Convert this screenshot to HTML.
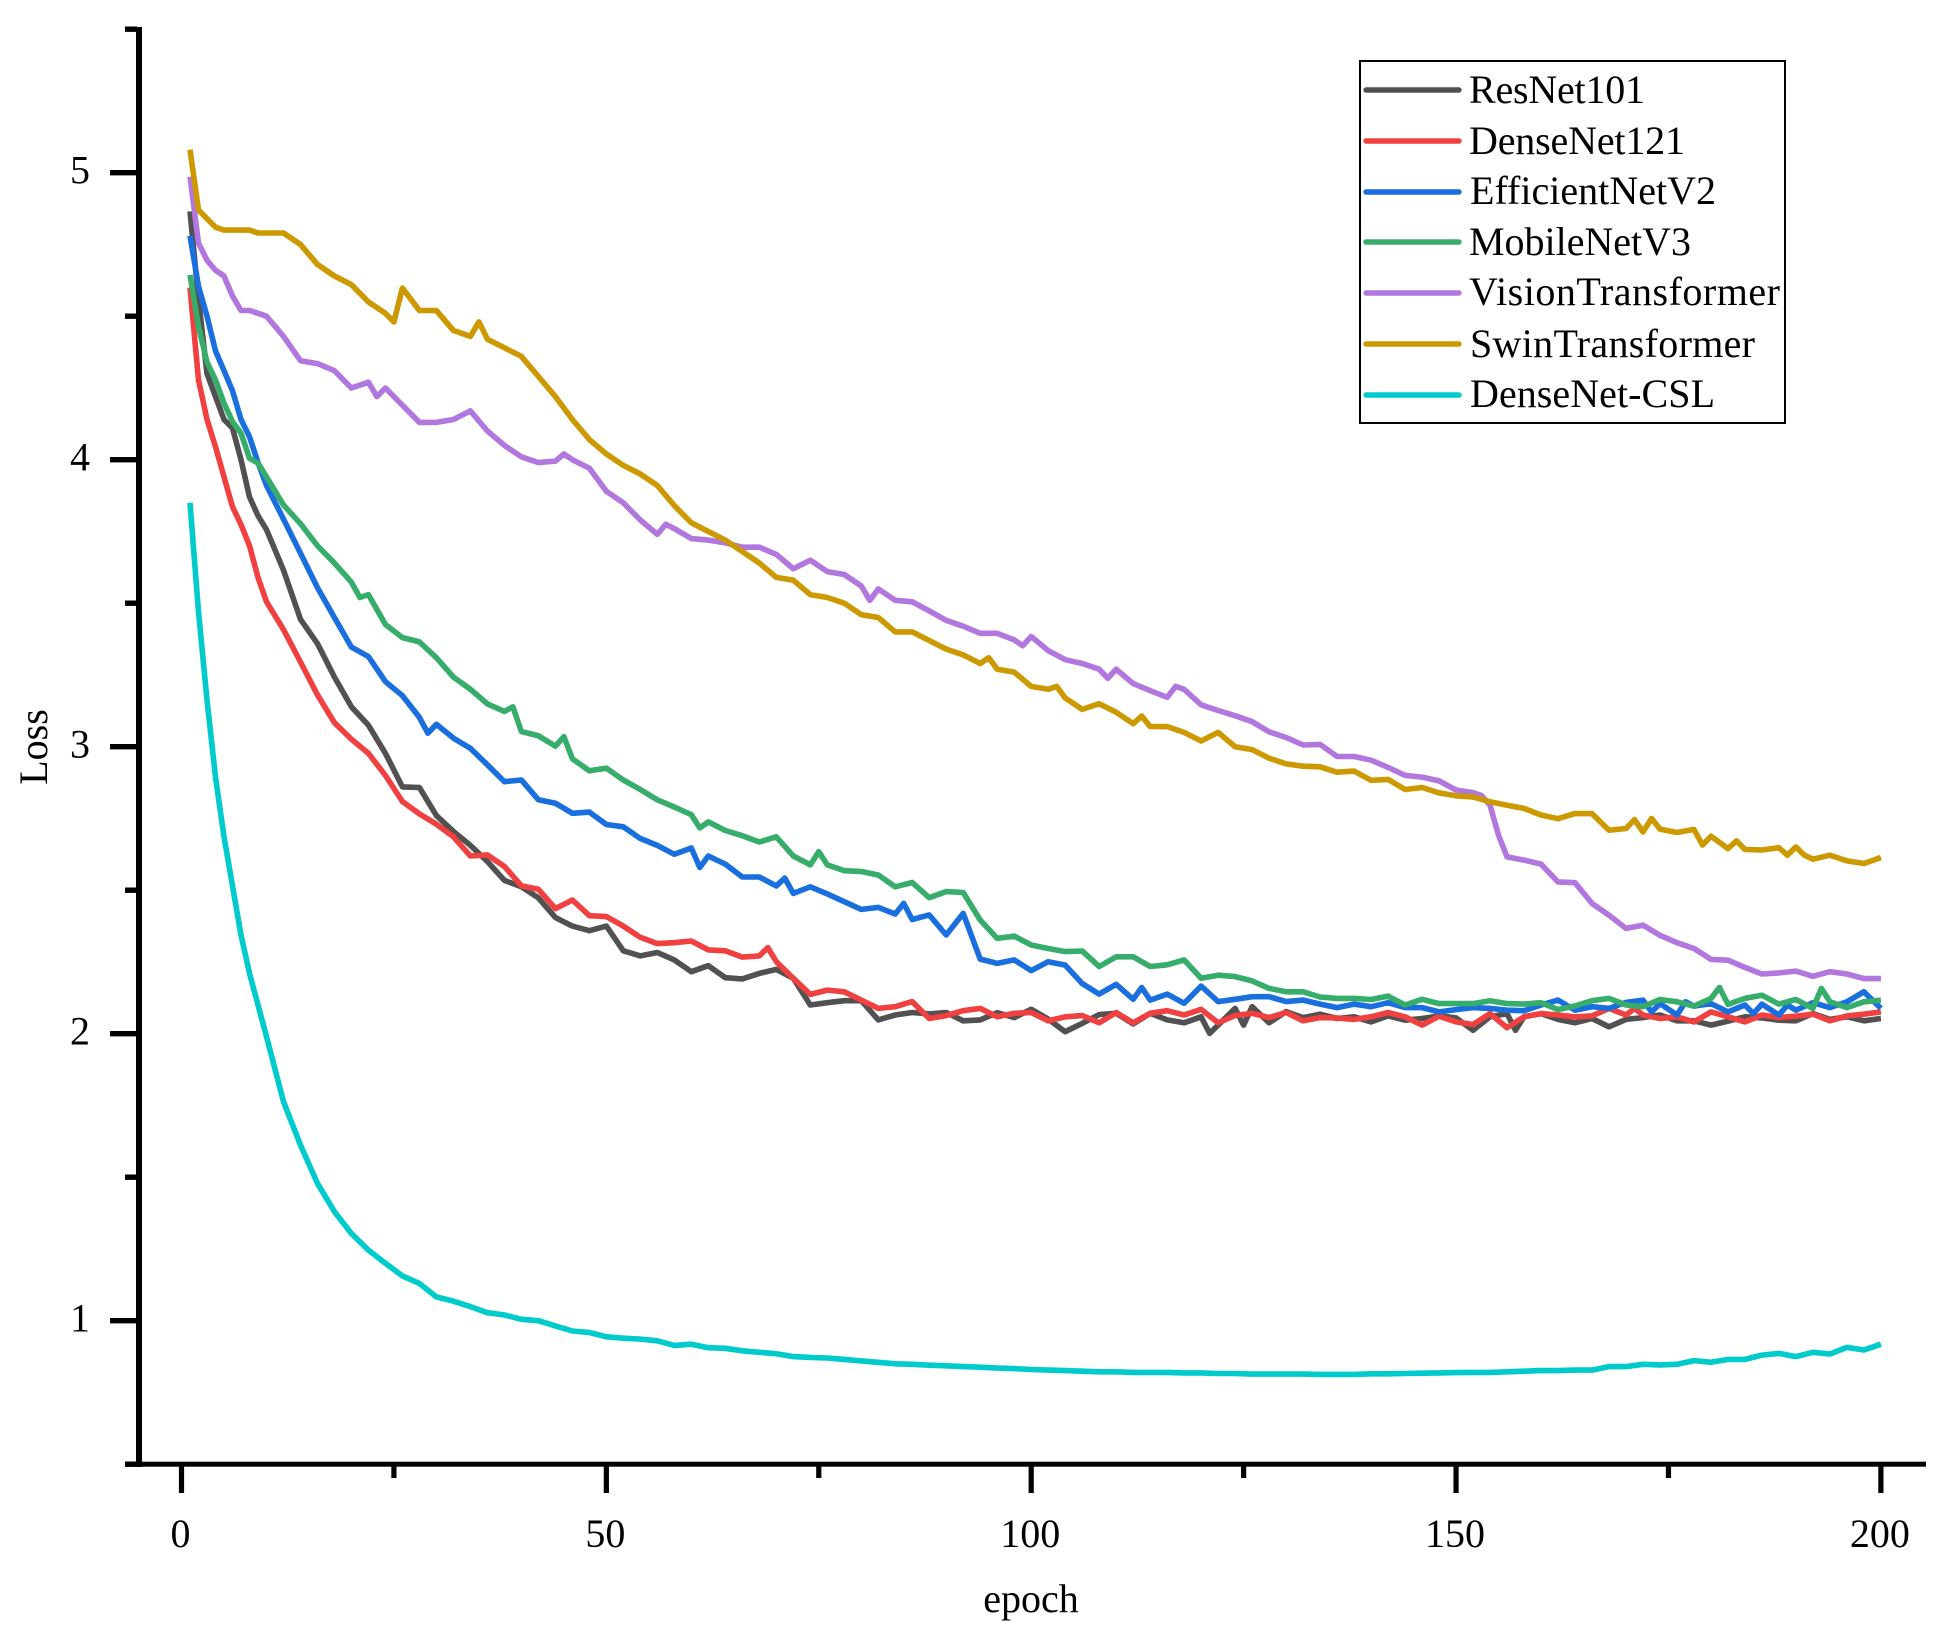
<!DOCTYPE html>
<html lang="en">
<head>
<meta charset="utf-8">
<title>Loss vs epoch</title>
<style>
html,body{margin:0;padding:0;background:#fff;}
svg{display:block;}
text{font-family:"Liberation Serif","Times New Roman",serif;font-size:40px;fill:#000;}
</style>
</head>
<body>
<svg id="chart" xmlns="http://www.w3.org/2000/svg" width="1945" height="1641" viewBox="0 0 1945 1641">
  <rect x="0" y="0" width="1945" height="1641" fill="#fff"/>
  <g id="series-layer"></g>
  <g id="axes-layer"></g>
  <text transform="translate(47,747) rotate(-90)" text-anchor="middle">Loss</text>
  <text x="1031" y="1612" text-anchor="middle">epoch</text>
  <g>
    <rect x="1360" y="61" width="425" height="362" fill="#fff" stroke="#000" stroke-width="2"/>
    <g>
      <line x1="1366" x2="1459" y1="90" y2="90" stroke="#515151" stroke-width="5.4" stroke-linecap="round"/>
      <text x="1469" y="103" textLength="176" lengthAdjust="spacing">ResNet101</text>
    </g>
    <g>
      <line x1="1366" x2="1459" y1="141" y2="141" stroke="#F14040" stroke-width="5.4" stroke-linecap="round"/>
      <text x="1469" y="154" textLength="216" lengthAdjust="spacing">DenseNet121</text>
    </g>
    <g>
      <line x1="1366" x2="1459" y1="192" y2="192" stroke="#1A6FDF" stroke-width="5.4" stroke-linecap="round"/>
      <text x="1470" y="204" textLength="246" lengthAdjust="spacing">EfficientNetV2</text>
    </g>
    <g>
      <line x1="1366" x2="1459" y1="242" y2="242" stroke="#37AD6B" stroke-width="5.4" stroke-linecap="round"/>
      <text x="1469" y="255" textLength="222" lengthAdjust="spacing">MobileNetV3</text>
    </g>
    <g>
      <line x1="1366" x2="1459" y1="293" y2="293" stroke="#B177DE" stroke-width="5.4" stroke-linecap="round"/>
      <text x="1469" y="305" textLength="311" lengthAdjust="spacing">VisionTransformer</text>
    </g>
    <g>
      <line x1="1366" x2="1459" y1="344" y2="344" stroke="#CC9900" stroke-width="5.4" stroke-linecap="round"/>
      <text x="1470" y="357" textLength="285" lengthAdjust="spacing">SwinTransformer</text>
    </g>
    <g>
      <line x1="1366" x2="1459" y1="395" y2="395" stroke="#00CBCC" stroke-width="5.4" stroke-linecap="round"/>
      <text x="1470" y="407" textLength="245" lengthAdjust="spacing">DenseNet-CSL</text>
    </g>
  </g>
</svg>
<script>
const epochs = [1,2,3,4,5,6,7,8,9,10,12,14,16,18,20,22,24,26,28,30,32,34,36,38,40,42,44,46,48,50,52,54,56,58,60,62,64,66,68,70,72,74,76,78,80,82,84,86,88,90,92,94,96,98,100,102,104,106,108,110,112,114,116,118,120,122,124,126,128,130,132,134,136,138,140,142,144,146,148,150,152,154,156,158,160,162,164,166,168,170,172,174,176,178,180,182,184,186,188,190,192,194,196,198,200];

const resnet101 = [4.865,4.56,4.30,4.22,4.14,4.11,4.00,3.87,3.805,3.756,
3.615,3.444,3.359,3.243,3.139,3.075,2.977,2.86,2.858,2.76,
2.705,2.656,2.60,2.534,2.512,2.473,2.405,2.375,2.359,2.375,
2.289,2.271,2.283,2.257,2.216,2.237,2.195,2.191,2.21,2.224,
2.193,2.10,2.108,2.115,2.115,2.048,2.065,2.074,2.069,2.074,
2.045,2.048,2.073,2.056,2.085,2.051,2.007,2.036,2.067,2.071,
2.034,2.071,2.048,2.038,2.059,2.03,2.088,2.094,2.038,2.077,
2.056,2.068,2.053,2.059,2.041,2.062,2.047,2.053,2.062,2.055,
2.012,2.059,2.07,2.059,2.07,2.05,2.038,2.053,2.024,2.05,
2.056,2.065,2.045,2.045,2.03,2.044,2.059,2.055,2.047,2.045,
2.07,2.05,2.059,2.045,2.053];
const resnet101Extra = [[121,2.001],[125,2.03],[157,2.012]];

const densenet121 = [4.60,4.278,4.14,4.045,3.94,3.836,3.774,3.70,3.59,3.505,
3.408,3.295,3.18,3.084,3.026,2.977,2.90,2.809,2.766,2.73,
2.686,2.619,2.623,2.583,2.515,2.503,2.436,2.466,2.411,2.408,
2.375,2.336,2.314,2.317,2.323,2.292,2.289,2.267,2.271,2.251,
2.193,2.137,2.152,2.146,2.117,2.088,2.094,2.112,2.053,2.063,
2.08,2.088,2.059,2.071,2.074,2.045,2.059,2.063,2.038,2.074,
2.038,2.071,2.08,2.065,2.085,2.038,2.063,2.071,2.056,2.074,
2.045,2.056,2.055,2.05,2.059,2.074,2.059,2.03,2.061,2.041,
2.032,2.07,2.021,2.059,2.07,2.065,2.059,2.062,2.088,2.065,
2.065,2.053,2.059,2.041,2.076,2.059,2.041,2.065,2.056,2.061,
2.068,2.045,2.062,2.068,2.076];
const densenet121Extra = [[69,2.30],[171,2.088]];

const efficientnetV2 = [4.78,4.604,4.50,4.379,4.31,4.24,4.14,4.08,3.99,3.91,
3.793,3.674,3.554,3.45,3.347,3.314,3.227,3.178,3.102,3.078,
3.03,2.994,2.937,2.878,2.884,2.815,2.803,2.768,2.772,2.729,
2.721,2.68,2.656,2.625,2.647,2.619,2.591,2.546,2.546,2.515,
2.489,2.512,2.487,2.46,2.433,2.44,2.417,2.398,2.414,2.344,
2.419,2.26,2.245,2.257,2.22,2.251,2.239,2.175,2.138,2.172,
2.12,2.117,2.138,2.106,2.166,2.112,2.12,2.129,2.129,2.112,
2.117,2.103,2.091,2.103,2.094,2.108,2.091,2.091,2.076,2.084,
2.091,2.088,2.082,2.08,2.10,2.117,2.082,2.094,2.088,2.109,
2.117,2.105,2.065,2.096,2.105,2.076,2.10,2.103,2.065,2.082,
2.108,2.091,2.111,2.146,2.088];
const efficientnetV2Extra = [[29,3.047],[61,2.579],[71,2.542],[85,2.454],[113,2.161],[173,2.076],[177,2.111],[185,2.07],[189,2.10]];

const mobilenetV3 = [4.644,4.464,4.34,4.278,4.197,4.133,4.092,4.005,3.988,3.94,
3.842,3.777,3.70,3.64,3.573,3.53,3.426,3.38,3.365,3.31,
3.243,3.20,3.149,3.123,3.053,3.038,3.002,2.958,2.916,2.925,
2.884,2.851,2.815,2.79,2.763,2.738,2.708,2.69,2.668,2.686,
2.619,2.588,2.588,2.568,2.565,2.553,2.512,2.527,2.474,2.495,
2.492,2.396,2.332,2.34,2.309,2.297,2.286,2.288,2.234,2.268,
2.268,2.234,2.24,2.257,2.193,2.204,2.199,2.184,2.158,2.146,
2.146,2.128,2.123,2.123,2.119,2.131,2.10,2.12,2.105,2.105,
2.105,2.115,2.105,2.103,2.108,2.084,2.097,2.115,2.123,2.10,
2.094,2.119,2.111,2.096,2.123,2.102,2.123,2.134,2.103,2.119,
2.088,2.111,2.091,2.111,2.117];
const mobilenetV3Extra = [[21,3.52],[39,3.139],[45,3.035],[61,2.717],[75,2.634],[181,2.161],[193,2.158]];

const visionTransformer = [4.986,4.755,4.695,4.66,4.64,4.57,4.52,4.52,4.51,4.50,
4.43,4.345,4.335,4.31,4.25,4.27,4.25,4.19,4.13,4.13,
4.14,4.17,4.10,4.05,4.01,3.99,3.995,4.00,3.97,3.89,
3.85,3.79,3.74,3.76,3.725,3.72,3.71,3.695,3.695,3.67,
3.62,3.65,3.61,3.60,3.56,3.55,3.51,3.505,3.473,3.44,
3.42,3.395,3.395,3.372,3.384,3.335,3.303,3.29,3.27,3.27,
3.22,3.195,3.172,3.20,3.146,3.126,3.108,3.087,3.052,3.032,
3.006,3.008,2.966,2.966,2.953,2.928,2.90,2.894,2.881,2.849,
2.84,2.796,2.616,2.605,2.591,2.529,2.526,2.454,2.413,2.367,
2.378,2.343,2.317,2.297,2.259,2.256,2.231,2.208,2.212,2.218,
2.20,2.216,2.208,2.192,2.192];
const visionTransformerExtra = [[23,4.22],[45,4.02],[57,3.775],[81,3.51],[99,3.352],[109,3.238],[117,3.21],[153,2.83],[155,2.692]];

const swinTransformer = [5.08,4.87,4.84,4.81,4.80,4.80,4.80,4.80,4.79,4.79,
4.79,4.75,4.68,4.64,4.61,4.55,4.51,4.598,4.52,4.52,
4.45,4.43,4.42,4.39,4.36,4.29,4.22,4.14,4.07,4.02,
3.98,3.95,3.91,3.84,3.78,3.75,3.72,3.68,3.64,3.59,
3.58,3.53,3.52,3.50,3.46,3.45,3.40,3.40,3.37,3.34,
3.32,3.29,3.27,3.26,3.21,3.20,3.17,3.13,3.15,3.12,
3.08,3.07,3.07,3.05,3.02,3.05,3.00,2.99,2.96,2.94,
2.932,2.93,2.911,2.915,2.883,2.886,2.851,2.858,2.839,2.829,
2.825,2.808,2.796,2.785,2.762,2.749,2.767,2.767,2.709,2.715,
2.703,2.713,2.701,2.712,2.688,2.645,2.642,2.64,2.648,2.651,
2.608,2.622,2.602,2.593,2.614];
const swinTransformerExtra = [[25,4.48],[35,4.48],[95,3.31],[103,3.21],[113,3.107],[171,2.746],[173,2.75],[179,2.657],[183,2.672],[189,2.622],[191,2.622]];

const densenetCsl = [3.85,3.47,3.163,2.894,2.686,2.515,2.344,2.21,2.10,1.99,
1.763,1.612,1.478,1.38,1.304,1.246,1.20,1.156,1.13,1.083,
1.068,1.049,1.028,1.02,1.005,1.0,0.982,0.964,0.959,0.944,
0.939,0.936,0.93,0.914,0.918,0.906,0.904,0.895,0.89,0.885,
0.875,0.872,0.87,0.865,0.86,0.855,0.85,0.848,0.845,0.843,
0.84,0.838,0.835,0.833,0.83,0.828,0.826,0.824,0.822,0.822,
0.82,0.82,0.82,0.818,0.818,0.816,0.816,0.814,0.814,0.814,
0.814,0.813,0.813,0.813,0.815,0.815,0.816,0.817,0.818,0.819,
0.82,0.82,0.822,0.824,0.826,0.826,0.828,0.828,0.84,0.84,
0.848,0.846,0.848,0.861,0.855,0.865,0.865,0.88,0.886,0.875,
0.89,0.884,0.907,0.898,0.918];
const densenetCslExtra = [];

const xMajorTicks = [0,50,100,150,200];
const xMinorTicks = [25,75,125,175];
const yMajorTicks = [1,2,3,4,5];
const yMinorTicks = [0.5,1.5,2.5,3.5,4.5,5.5];

const svgNS = 'http://www.w3.org/2000/svg';
const xScale = function (e) { return 181.5 + 8.497 * e; };
const yScale = function (v) { return 1607.7 - 287 * v; };

const seriesLayer = document.getElementById('series-layer');
const axesLayer = document.getElementById('axes-layer');

function drawSeries(name, color, values, extra) {
  const pts = epochs.map(function (e, i) { return [e, values[i]]; }).concat(extra);
  pts.sort(function (a, b) { return a[0] - b[0]; });
  const d = pts.map(function (p, i) {
    return (i ? 'L' : 'M') + xScale(p[0]).toFixed(1) + ' ' + yScale(p[1]).toFixed(1);
  }).join(' ');
  const path = document.createElementNS(svgNS, 'path');
  path.setAttribute('d', d);
  path.setAttribute('fill', 'none');
  path.setAttribute('stroke', color);
  path.setAttribute('stroke-width', '5.6');
  path.setAttribute('stroke-linejoin', 'round');
  
  
  seriesLayer.appendChild(path);
}

drawSeries('resnet101', '#515151', resnet101, resnet101Extra);
drawSeries('densenet121', '#F14040', densenet121, densenet121Extra);
drawSeries('efficientnetv2', '#1A6FDF', efficientnetV2, efficientnetV2Extra);
drawSeries('mobilenetv3', '#37AD6B', mobilenetV3, mobilenetV3Extra);
drawSeries('visiontransformer', '#B177DE', visionTransformer, visionTransformerExtra);
drawSeries('swintransformer', '#CC9900', swinTransformer, swinTransformerExtra);
drawSeries('densenet-csl', '#00CBCC', densenetCsl, densenetCslExtra);

function drawRect(name, x, y, w, h) {
  const r = document.createElementNS(svgNS, 'rect');
  r.setAttribute('x', x);
  r.setAttribute('y', y);
  r.setAttribute('width', w);
  r.setAttribute('height', h);
  r.setAttribute('fill', '#000');
  
  
  axesLayer.appendChild(r);
}

function drawLabel(name, x, y, str) {
  const t = document.createElementNS(svgNS, 'text');
  t.setAttribute('x', x);
  t.setAttribute('y', y);
  t.setAttribute('text-anchor', 'middle');
  t.textContent = str;
  
  
  axesLayer.appendChild(t);
}

drawRect('y-axis-line', 136, 27, 6, 1440);
drawRect('x-axis-line', 125, 1461.7, 1801, 5);

xMajorTicks.forEach(function (t) {
  drawRect('x-tick-' + t, xScale(t) - 2.6, 1466, 5.2, 27);
  drawLabel('x-tick-label-' + t, xScale(t) - 1, 1547, String(t));
});
xMinorTicks.forEach(function (t) {
  drawRect('x-minor-tick-' + t, xScale(t) - 2.6, 1466, 5.2, 12);
});
yMajorTicks.forEach(function (t) {
  drawRect('y-tick-' + t, 110, yScale(t) - 2.7, 27, 5.4);
  drawLabel('y-tick-label-' + t, 80, yScale(t) + 11, String(t));
});
yMinorTicks.forEach(function (t) {
  drawRect('y-minor-tick-' + t, 125, yScale(t) - 2.7, 12, 5.4);
});
</script>
</body>
</html>
